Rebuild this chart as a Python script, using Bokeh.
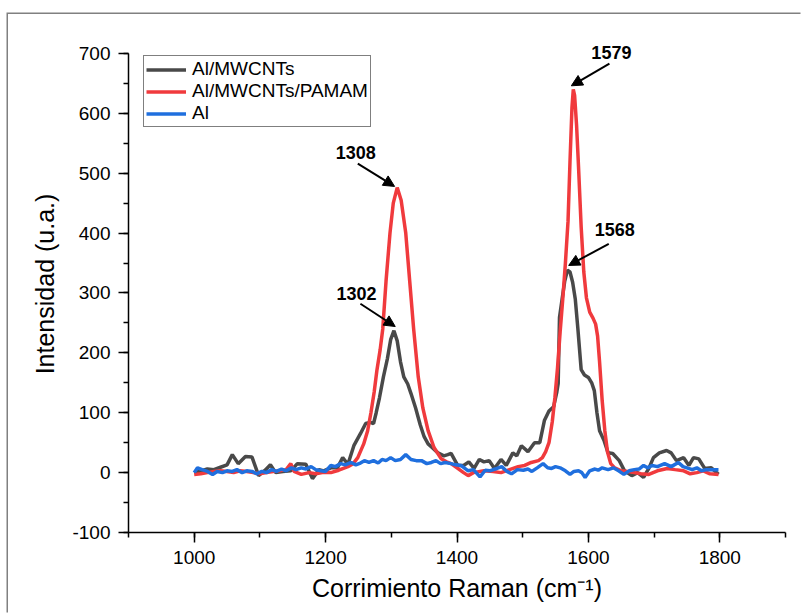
from bokeh.plotting import figure
from bokeh.models import (Range1d, SingleIntervalTicker, Legend, LegendItem, Label,
                          Arrow, NormalHead, PrintfTickFormatter)
from bokeh.embed import file_html
from bokeh.resources import INLINE

# ---------------- data ----------------
mwcnt_x = [1000, 1010, 1020, 1030, 1040, 1050, 1058, 1067, 1078, 1088, 1098, 1108, 1116, 1124,
           1135, 1147, 1157, 1170, 1180, 1190, 1197, 1208, 1218, 1226, 1234, 1243, 1253, 1261,
           1268, 1273, 1277, 1282, 1288, 1294, 1299, 1304, 1309, 1314, 1319, 1325, 1330, 1337,
           1344, 1350, 1356, 1362, 1371, 1380, 1386, 1391, 1401, 1410, 1418, 1426, 1434, 1441,
           1449, 1457, 1467, 1475, 1485, 1491, 1498, 1508, 1518, 1526, 1533, 1540, 1547, 1552,
           1554, 1556, 1560, 1564, 1568, 1572, 1576, 1580, 1584, 1589, 1594, 1600, 1605, 1609,
           1613, 1617, 1624, 1630, 1637, 1647, 1655, 1666, 1675, 1684, 1692, 1699, 1708, 1719,
           1726, 1734, 1745, 1753, 1760, 1768, 1777, 1787, 1798]
mwcnt_y = [0, 3, 6, 5, 9, 13, 30, 15, 27, 26, -5, 4, 13, 0,
           2, 3, 15, 14, -10, 5, 3, 8, 8, 25, 14, 45, 65, 82,
           84, 82, 100, 125, 160, 190, 222, 237, 220, 185, 160, 148, 132, 108,
           80, 60, 48, 42, 33, 28, 30, 32, 12, 12, 18, 7, 22, 18,
           20, 7, 22, 12, 33, 28, 45, 35, 50, 50, 87, 103, 110, 135,
           149, 259, 290, 320, 338, 335, 318, 290, 240, 172, 163, 159, 150, 137,
           100, 70, 53, 33, 32, 20, 3, -5, 0, -8, 7, 25, 33, 37,
           33, 20, 25, 12, 25, 23, 7, 8, -3]

pamam_x = [1000, 1010, 1020, 1030, 1040, 1050, 1060, 1070, 1080, 1090, 1100, 1110, 1120, 1130,
           1140, 1147, 1152, 1163, 1175, 1185, 1195, 1208, 1220, 1234, 1242, 1249, 1258, 1264,
           1269, 1274, 1278, 1283, 1287, 1292, 1298, 1303, 1309, 1315, 1322, 1328, 1334, 1341,
           1348, 1356, 1365, 1376, 1384, 1391, 1400, 1410, 1417, 1425, 1441, 1455, 1467, 1480,
           1493, 1503, 1513, 1524, 1530, 1535, 1540, 1545, 1549, 1553, 1557, 1561, 1565, 1569,
           1572, 1575, 1577, 1579, 1582, 1585, 1589, 1593, 1597, 1602, 1607, 1611, 1614, 1617,
           1621, 1625, 1629, 1634, 1640, 1650, 1660, 1670, 1680, 1692, 1705, 1720, 1732, 1745,
           1755, 1765, 1775, 1785, 1798]
pamam_y = [-3, -2, 0, 2, 3, 2, 0, 3, 2, 0, -2, 0, 2, 3,
           5, 15, 2, -3, 0, -2, 0, 0, 4, 10, 15, 25, 48, 70,
           100, 135, 170, 205, 240, 320, 400, 450, 476, 455, 400, 320, 240, 160,
           108, 70, 42, 23, 18, 15, 8, 0, -5, 0, 3, 2, 0, 5,
           10, 12, 17, 20, 25, 35, 50, 85, 125, 175, 235, 290, 350, 420,
           520, 610, 640, 630, 580, 510, 410, 335, 292, 268, 258, 248, 228, 185,
           120, 70, 35, 15, 8, 3, 2, 0, -2, -3, 3, 7, 5, 3,
           -2, 0, 3, -2, -3]

al_x = [1000, 1005, 1012, 1020, 1028, 1035, 1043, 1050, 1058, 1065, 1073, 1080, 1088, 1095,
        1103, 1110, 1118, 1125, 1133, 1140, 1148, 1155, 1163, 1170, 1178, 1185, 1193, 1200,
        1208, 1215, 1223, 1230, 1239, 1246, 1253, 1259, 1266, 1273, 1280, 1286, 1292, 1299,
        1306, 1314, 1322, 1330, 1338, 1346, 1354, 1361, 1368, 1375, 1382, 1391, 1398, 1406,
        1417, 1425, 1435, 1443, 1450, 1458, 1468, 1476, 1483, 1492, 1501, 1508, 1514, 1522,
        1531, 1538, 1544, 1550, 1557, 1565, 1572, 1578, 1585, 1590, 1595, 1602, 1610, 1615,
        1621, 1630, 1638, 1646, 1654, 1662, 1670, 1677, 1684, 1690, 1697, 1705, 1716, 1726,
        1737, 1744, 1750, 1758, 1765, 1772, 1780, 1790, 1798]
al_y = [0, 8, 5, 2, -3, 2, 0, 3, 2, 5, 0, 3, 2, -2,
        2, 0, 5, 2, 6, 3, 8, 5, 8, 6, 10, 5, 3, 2,
        12, 10, 15, 13, 17, 13, 16, 20, 17, 20, 16, 22, 20, 25,
        20, 22, 30, 22, 20, 20, 15, 17, 20, 15, 17, 15, 13, 12,
        3, 5, -7, 4, 3, 6, 10, 2, -2, 5, 4, 6, 2, 8,
        15, 8, 7, 10, 8, 3, -3, 2, 3, 0, -8, 3, 6, 4,
        8, 5, 8, 3, -3, 3, 5, 6, 12, 8, 12, 10, 15, 10,
        17, 10, 8, 5, 8, 3, 5, 5, 5]

series_names = ["Al/MWCNTs", "Al/MWCNTs/PAMAM", "Al"]

peak_labels = ["1308", "1302", "1579", "1568"]
peak_tip_x = [1305, 1306, 1574, 1570]
peak_tip_y = [478, 244, 646, 346]
peak_tail_x = [1249, 1253, 1632, 1631]
peak_tail_y = [516, 282, 683, 382]
peak_text_x = [1246, 1247, 1635, 1640]
peak_text_y = [534, 299, 701, 406]

x_ticks_interval = 200
y_ticks_interval = 100
y_axis_bounds = (-100, 700)

# ---------------- figure ----------------
FONT = "Liberation Sans"
p = figure(width=794, height=600, x_range=Range1d(900, 1900), y_range=Range1d(-100, 730),
           output_backend="svg", toolbar_location=None,
           min_border_left=120, min_border_right=17, min_border_top=21, min_border_bottom=82)
p.margin = (14, 0, 0, 8)
p.styles = {"box-shadow": "-1.5px -1.5px 0px 0px #808080"}
p.outline_line_color = None
p.xgrid.grid_line_color = None
p.ygrid.grid_line_color = None
p.background_fill_color = "white"
p.border_fill_color = "white"

p.xaxis.ticker = SingleIntervalTicker(interval=x_ticks_interval, num_minor_ticks=2)
p.yaxis.ticker = SingleIntervalTicker(interval=y_ticks_interval, num_minor_ticks=2)
p.yaxis.bounds = y_axis_bounds
p.yaxis.formatter = PrintfTickFormatter(format="%d")

for ax in (p.xaxis[0], p.yaxis[0]):
    ax.axis_line_color = "black"
    ax.axis_line_width = 1.5
    ax.major_tick_line_color = "black"
    ax.major_tick_line_width = 1.5
    ax.minor_tick_line_color = "black"
    ax.minor_tick_line_width = 1.5
    ax.major_tick_in = 0
    ax.major_tick_out = 10
    ax.minor_tick_in = 0
    ax.minor_tick_out = 5
    ax.major_label_text_font = FONT
    ax.major_label_text_font_size = "19px"
    ax.major_label_text_color = "black"
    ax.axis_label_text_font = FONT
    ax.axis_label_text_font_size = "25px"
    ax.axis_label_text_font_style = "normal"
    ax.axis_label_text_color = "black"

p.xaxis.axis_label = "Corrimiento Raman (cm\u207b\u00b9)"
p.yaxis.axis_label = "Intensidad (u.a.)"
p.xaxis.major_label_standoff = 8
p.yaxis.major_label_standoff = 8
p.xaxis.axis_label_standoff = 7
p.yaxis.axis_label_standoff = 10

colors = ["#494949", "#f03a3d", "#1f6fde"]
r1 = p.line(mwcnt_x, mwcnt_y, line_color=colors[0], line_width=3.5)
r2 = p.line(pamam_x, pamam_y, line_color=colors[1], line_width=3.5)
r3 = p.line(al_x, al_y, line_color=colors[2], line_width=3.5)

legend = Legend(items=[LegendItem(label=series_names[0], renderers=[r1]),
                       LegendItem(label=series_names[1], renderers=[r2]),
                       LegendItem(label=series_names[2], renderers=[r3])],
                location=(15, 405))
legend.border_line_color = "black"
legend.border_line_width = 1
legend.background_fill_color = "white"
legend.background_fill_alpha = 1
legend.label_text_font = FONT
legend.label_text_font_size = "19px"
legend.label_text_color = "black"
legend.glyph_width = 40
legend.glyph_height = 19
legend.label_height = 19
legend.spacing = 0
legend.padding = 2
legend.margin = 0
legend.label_standoff = 6
p.add_layout(legend, "center")

for i in range(len(peak_labels)):
    p.add_layout(Arrow(end=NormalHead(size=11, fill_color="black", line_color="black", line_width=1),
                       x_start=peak_tail_x[i], y_start=peak_tail_y[i],
                       x_end=peak_tip_x[i], y_end=peak_tip_y[i],
                       line_color="black", line_width=2))
    p.add_layout(Label(x=peak_text_x[i], y=peak_text_y[i], text=peak_labels[i],
                       text_align="center", text_baseline="middle",
                       text_font=FONT, text_font_size="18px", text_font_style="bold",
                       text_color="black"))

open("out.html", "w").write(file_html(p, INLINE))
